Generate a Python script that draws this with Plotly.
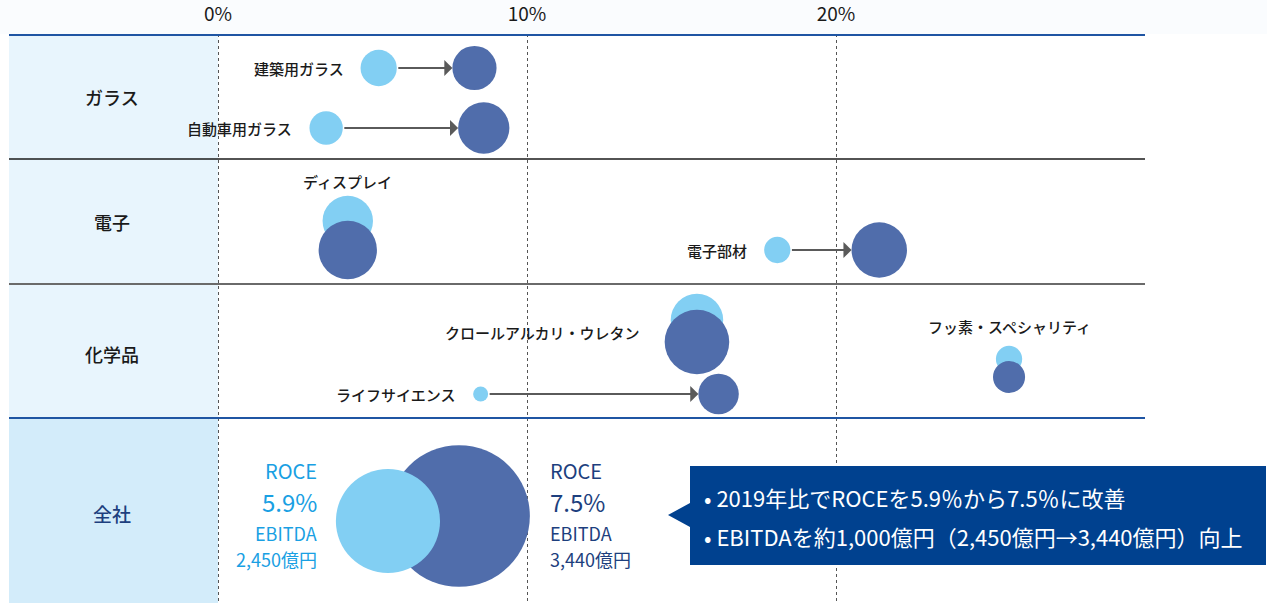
import plotly.graph_objects as go

# ----------------------------------------------------------
# DATA (ROCE %, bubble size = EBITDA-scale units)
# ----------------------------------------------------------

segments = [
    "建築用ガラス", "自動車用ガラス", "ディスプレイ", "電子部材",
    "クロールアルカリ・ウレタン", "ライフサイエンス", "フッ素・スペシャリティ",
]
roce_2019 = [5.2, 3.5, 4.2, 18.1, 15.5, 8.5, 25.6]
roce_2022 = [8.3, 8.6, 4.2, 21.4, 15.5, 16.2, 25.6]
size_2019 = [870, 800, 1210, 630, 1260, 360, 630]
size_2022 = [1060, 1230, 1400, 1330, 1550, 970, 770]

total_roce = [5.5, 7.8]
total_size = [2500, 3400]
total_roce_text = ["5.9%", "7.5%"]
total_ebitda_text = ["2,450億円", "3,440億円"]

row_labels = ["ガラス", "電子", "化学品", "全社"]
tick_values = [0, 10, 20]
tick_text = ["0%", "10%", "20%"]

callout_lines = [
    "• 2019年比でROCEを5.9％から7.5％に改善",
    "• EBITDAを約1,000億円（2,450億円→3,440億円）向上",
]

# ----------------------------------------------------------
# LAYOUT CONSTANTS
# ----------------------------------------------------------

W, H = 1267, 603
TOP = 34
PX_PER_PCT = 30.9
X0_PX = 218
FONT = "Noto Sans CJK JP"

LIGHT = "#82cff3"
DARK = "#506dab"
NAVY = "#00418f"
ARROW = "#5a5a5a"
INK = "#1a1a1a"

SIZEREF = 24.0  # diameter px = value / SIZEREF


def px(xp):
    return (xp - X0_PX) / PX_PER_PCT


def rad(v):
    return v / SIZEREF / 2


# vertical placement of each segment (pixel rows)
y_2019 = [68, 128, 221, 250, 320, 394, 359]
y_2022 = [68, 128, 250, 250, 342, 394, 377]
arrows = [True, True, False, True, False, True, False]

fig = go.Figure()

# ----------------------------------------------------------
# BACKGROUND PANELS AND ROW LINES
# ----------------------------------------------------------

fig.add_shape(type="rect", x0=px(9), x1=0, y0=TOP, y1=418,
              fillcolor="#e8f5fd", line_width=0, layer="below")
fig.add_shape(type="rect", x0=px(9), x1=0, y0=418, y1=H,
              fillcolor="#d3ecfa", line_width=0, layer="below")

row_lines = [(35, "#1f55a3", 2), (159, "#1a1a1a", 1.5),
             (284, "#6a6a6a", 2), (418, "#1f55a3", 2)]
for yl, col, wd in row_lines:
    fig.add_shape(type="line", x0=px(9), x1=30, y0=yl, y1=yl,
                  line=dict(color=col, width=wd))

row_y = [97, 222, 354, 513]
for i, lab in enumerate(row_labels):
    fig.add_annotation(
        x=px(112), y=row_y[i], text=lab, showarrow=False,
        font=dict(family=FONT, size=19 if i == 3 else 18, weight=500,
                  color="#1d3f7e" if i == 3 else INK),
    )

# ----------------------------------------------------------
# SEGMENT BUBBLES
# ----------------------------------------------------------

fig.add_trace(go.Scatter(
    x=roce_2019, y=y_2019, mode="markers",
    marker=dict(size=size_2019, sizemode="diameter", sizeref=SIZEREF,
                color=LIGHT, opacity=1, line_width=0),
    hoverinfo="skip", showlegend=False,
))
fig.add_trace(go.Scatter(
    x=roce_2022, y=y_2022, mode="markers",
    marker=dict(size=size_2022, sizemode="diameter", sizeref=SIZEREF,
                color=DARK, opacity=1, line_width=0),
    hoverinfo="skip", showlegend=False,
))

for i in range(len(segments)):
    if arrows[i]:
        fig.add_annotation(
            x=roce_2022[i], y=y_2022[i], ax=roce_2019[i], ay=y_2019[i],
            xref="x", yref="y", axref="x", ayref="y",
            showarrow=True, arrowhead=1, arrowsize=1.35, arrowwidth=2,
            arrowcolor=ARROW, standoff=rad(size_2022[i]),
            startstandoff=rad(size_2019[i]), text="",
        )

label_font = dict(family=FONT, size=15, weight=500, color=INK)

# side labels (left of light bubble)
for i in [0, 1, 3, 5]:
    fig.add_annotation(
        x=roce_2019[i], y=y_2019[i], text=segments[i], showarrow=False,
        xanchor="right", xshift=-(rad(size_2019[i]) + 15), font=label_font,
    )

# labels above bubbles
for i, dy in [(2, 40), (6, 33)]:
    fig.add_annotation(
        x=roce_2019[i], y=y_2019[i] - dy, text=segments[i], showarrow=False,
        font=label_font,
    )

fig.add_annotation(
    x=roce_2022[4], y=332, text=segments[4], showarrow=False,
    xanchor="right", xshift=-(rad(size_2022[4]) + 24), font=label_font,
)

# ----------------------------------------------------------
# COMPANY TOTAL
# ----------------------------------------------------------

fig.add_trace(go.Scatter(
    x=[total_roce[1]], y=[516], mode="markers",
    marker=dict(size=[total_size[1]], sizemode="diameter", sizeref=SIZEREF,
                color=DARK, opacity=1, line_width=0),
    hoverinfo="skip", showlegend=False,
))
fig.add_trace(go.Scatter(
    x=[total_roce[0]], y=[521], mode="markers",
    marker=dict(size=[total_size[0]], sizemode="diameter", sizeref=SIZEREF,
                color=LIGHT, opacity=1, line_width=0),
    hoverinfo="skip", showlegend=False,
))

side = [(px(319), "right", "#19a0e3"), (px(548), "left", "#1d3f7e")]
for k in range(2):
    xk, anc, col = side[k]
    items = [("ROCE", 470, 20), (total_roce_text[k], 501, 24),
             ("EBITDA", 533, 18), (total_ebitda_text[k], 559, 18)]
    for txt, yy, fs in items:
        fig.add_annotation(
            x=xk, y=yy, text=txt, showarrow=False, xanchor=anc,
            font=dict(family=FONT, size=fs, color=col),
        )

# ----------------------------------------------------------
# CALLOUT
# ----------------------------------------------------------

bx0, bx1, by0, by1 = px(690), px(1266), 466, 565
tip = px(668)
fig.add_shape(
    type="path",
    path=(f"M {bx0} {by0} L {bx1} {by0} L {bx1} {by1} L {bx0} {by1} "
          f"L {bx0} 527 L {tip} 515 L {bx0} 503 Z"),
    fillcolor=NAVY, line_width=0,
)
for j, line in enumerate(callout_lines):
    fig.add_annotation(
        x=px(702), y=[497, 536][j], text=line, showarrow=False,
        xanchor="left", font=dict(family=FONT, size=22, color="white"),
    )

# ----------------------------------------------------------
# LAYOUT
# ----------------------------------------------------------

fig.update_layout(
    width=W, height=H,
    margin=dict(l=0, r=0, t=TOP, b=0),
    paper_bgcolor="#fafcfe",
    plot_bgcolor="white",
    xaxis=dict(
        range=[px(0), px(W)], side="top",
        tickvals=tick_values, ticktext=tick_text,
        ticks="outside", ticklen=4, tickcolor="rgba(0,0,0,0)",
        tickfont=dict(family=FONT, size=19, color=INK),
        showgrid=True, gridcolor="#555555", griddash="dot", gridwidth=1,
        zeroline=False, showline=False, fixedrange=True,
    ),
    yaxis=dict(
        range=[H, TOP], showticklabels=False, showgrid=False,
        zeroline=False, showline=False, fixedrange=True,
    ),
)

fig.write_html(
    "out.html",
    config={"displayModeBar": False},
    post_script="document.body.style.margin='0';",
)
